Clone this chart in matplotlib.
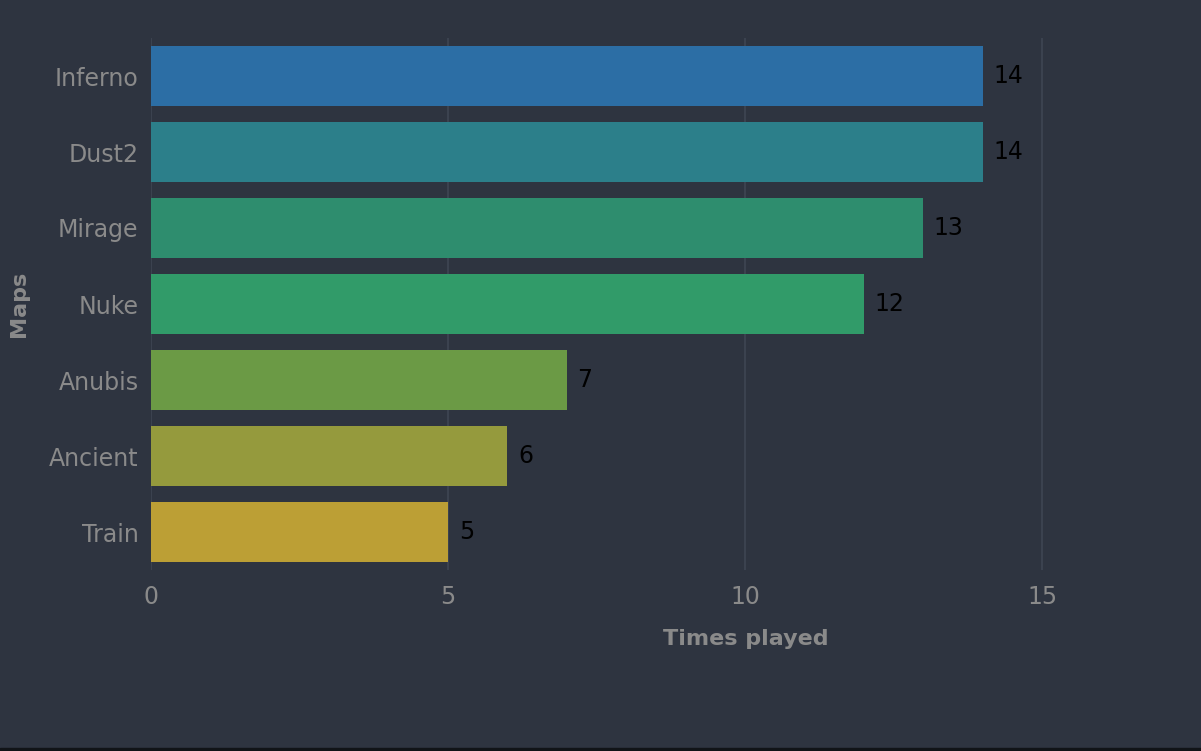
import matplotlib
matplotlib.use("Agg")
import matplotlib.pyplot as plt
from matplotlib.patches import Rectangle

maps = ["Inferno", "Dust2", "Mirage", "Nuke", "Anubis", "Ancient", "Train"]
times_played = [14, 14, 13, 12, 7, 6, 5]
bar_colors = ["#2c6ea5", "#2c7f8a", "#2e8d6e", "#319b69", "#6b9a45", "#959a3d", "#bc9f35"]
x_ticks = [0, 5, 10, 15]

BG = "#2e3440"
GRID = "#3e4553"
TXT = "#8a8a8a"

plt.rcParams["font.family"] = ["DejaVu Sans"]
fig = plt.figure(figsize=(12.01, 7.51), dpi=100, facecolor=BG)
# axes box in pixels: left 151, right 1201, top 38, bottom 570
ax = fig.add_axes([151 / 1201, (751 - 570) / 751, 1050 / 1201, 532 / 751])
ax.set_facecolor(BG)

ypos = list(range(len(maps)))
ax.barh(ypos, times_played, height=0.78, color=bar_colors, zorder=3)
for y, v in zip(ypos, times_played):
    ax.text(v + 0.18, y, str(v), va="center", ha="left", fontsize=17, color="black", zorder=4)

ax.set_xlim(0, 1050 / 59.4)
ax.set_ylim(len(maps) - 0.5, -0.5)
ax.set_yticks(ypos)
ax.set_yticklabels(maps)
ax.set_xticks(x_ticks)
ax.tick_params(axis="both", length=0, colors=TXT, labelsize=17)
ax.tick_params(axis="y", pad=9)
ax.tick_params(axis="x", pad=11)
for s in ax.spines.values():
    s.set_visible(False)
ax.grid(axis="x", color=GRID, lw=1.2, zorder=0)
ax.grid(axis="y", visible=False)

ax.set_xlabel("Times played", fontsize=16, fontweight="bold", color=TXT)
ax.xaxis.set_label_coords((746 - 151) / 1050, -0.11)
ax.set_ylabel("Maps", fontsize=16, fontweight="bold", color=TXT)
ax.yaxis.set_label_coords(-(151 - 29) / 1050, 0.5)

# thin dark strip along the bottom edge
fig.patches.append(Rectangle((0, 0), 1, 3 / 751, transform=fig.transFigure,
                             color="#111418", zorder=10))

fig.savefig("out.png", dpi=100, facecolor=BG)
